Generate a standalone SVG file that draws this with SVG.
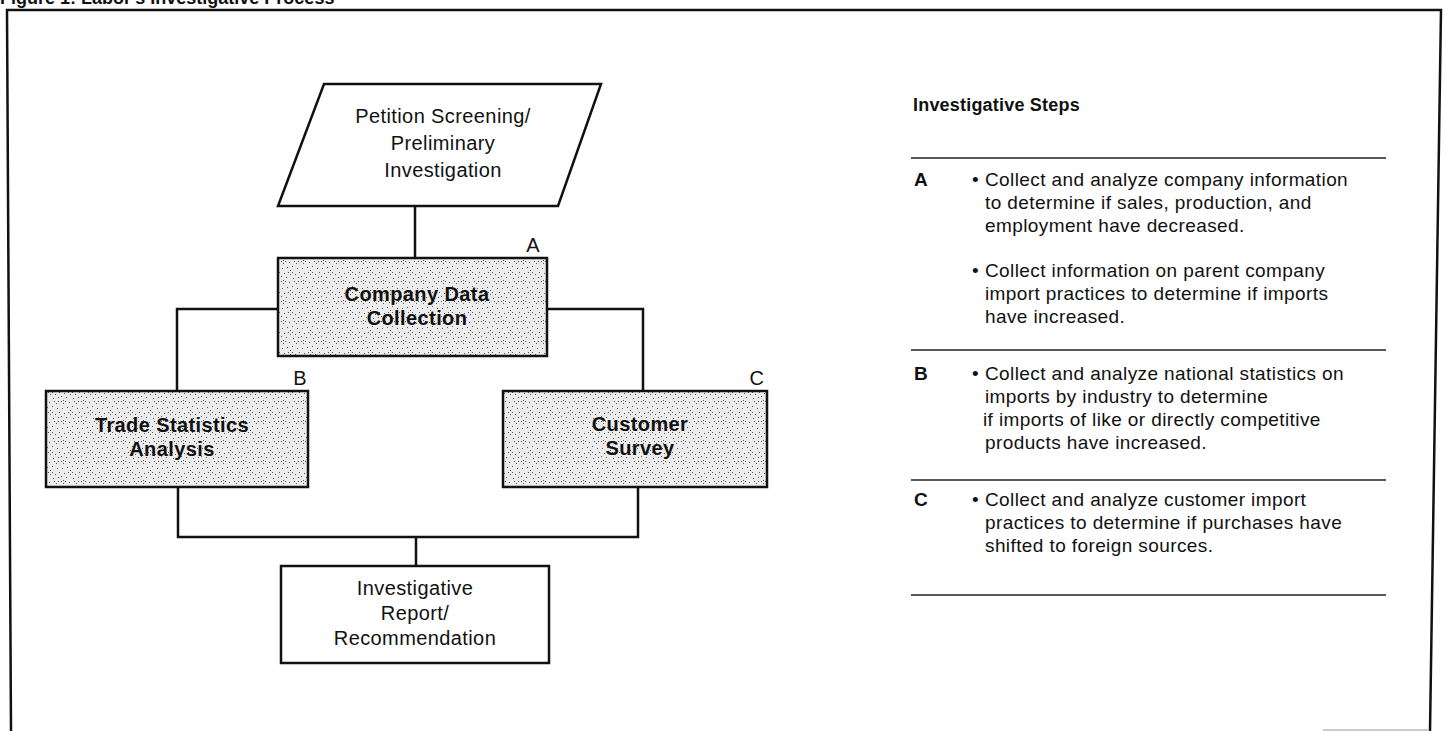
<svg xmlns="http://www.w3.org/2000/svg" width="1446" height="731" viewBox="0 0 1446 731">
<style>
.t{font-family:"Liberation Sans",Arial,sans-serif;font-size:20px;fill:#111;letter-spacing:0.4px}
.b{font-weight:bold}
.p{font-family:"Liberation Sans",Arial,sans-serif;font-size:19px;fill:#111;letter-spacing:0.4px}
.box{stroke:#111;stroke-width:2.5;fill:#fff}
.sh{stroke:#111;stroke-width:2.5;fill:url(#dots)}
.con{stroke:#111;stroke-width:2.5;fill:none}
.rule{stroke:#222;stroke-width:1.5}
.d{fill:#555}
</style>
<defs>
<pattern id="dots" width="20" height="20" patternUnits="userSpaceOnUse">
<rect width="20" height="20" fill="#ececec"/>
<rect class="d" x="1" y="1" width="1" height="1"/>
<rect class="d" x="3" y="3" width="1" height="1"/>
<rect class="d" x="5" y="1" width="1" height="1"/>
<rect class="d" x="3" y="0" width="1" height="1"/>
<rect class="d" x="9" y="2" width="1" height="1"/>
<rect class="d" x="14" y="1" width="1" height="1"/>
<rect class="d" x="16" y="3" width="1" height="1"/>
<rect class="d" x="18" y="1" width="1" height="1"/>
<rect class="d" x="12" y="6" width="1" height="1"/>
<rect class="d" x="7" y="7" width="1" height="1"/>
<rect class="d" x="2" y="8" width="1" height="1"/>
<rect class="d" x="17" y="8" width="1" height="1"/>
<rect class="d" x="10" y="10" width="1" height="1"/>
<rect class="d" x="12" y="12" width="1" height="1"/>
<rect class="d" x="8" y="12" width="1" height="1"/>
<rect class="d" x="10" y="14" width="1" height="1"/>
<rect class="d" x="4" y="13" width="1" height="1"/>
<rect class="d" x="15" y="14" width="1" height="1"/>
<rect class="d" x="1" y="16" width="1" height="1"/>
<rect class="d" x="6" y="17" width="1" height="1"/>
<rect class="d" x="13" y="18" width="1" height="1"/>
<rect class="d" x="18" y="17" width="1" height="1"/>
<rect class="d" x="19" y="12" width="1" height="1"/>
</pattern>
</defs>
<rect width="1446" height="731" fill="#fff"/>
<text x="0" y="4" font-family="Liberation Sans,Arial,sans-serif" font-size="18" font-weight="bold" fill="#111">Figure 1: Labor's Investigative Process</text>
<path d="M11 731 L7 10 L1441 10 L1430 731" fill="none" stroke="#111" stroke-width="2.5"/>
<line x1="1323" y1="730" x2="1428" y2="730" stroke="#bbb" stroke-width="1.5"/>

<g id="connectors">
<path class="con" d="M415 206 V258"/>
<path class="con" d="M278 309 H177 V391"/>
<path class="con" d="M547 309 H643 V391"/>
<path class="con" d="M178 487 V537 H638 V487"/>
<path class="con" d="M416 537 V566"/>
</g>

<g id="petition">
<polygon class="box" points="324,84 601,84 558,206 278,206"/>
<text class="t" x="443" y="123" text-anchor="middle">Petition Screening/</text>
<text class="t" x="443" y="150" text-anchor="middle">Preliminary</text>
<text class="t" x="443" y="177" text-anchor="middle">Investigation</text>
</g>

<g id="company">
<rect class="sh" x="278" y="258" width="269" height="98"/>
<text class="t" x="533" y="252" text-anchor="middle">A</text>
<text class="t b" x="417" y="301" text-anchor="middle">Company Data</text>
<text class="t b" x="417" y="325" text-anchor="middle">Collection</text>
</g>

<g id="trade">
<rect class="sh" x="46" y="391" width="262" height="96"/>
<text class="t" x="300" y="385" text-anchor="middle">B</text>
<text class="t b" x="172" y="432" text-anchor="middle">Trade Statistics</text>
<text class="t b" x="172" y="456" text-anchor="middle">Analysis</text>
</g>

<g id="customer">
<rect class="sh" x="503" y="391" width="264" height="96"/>
<text class="t" x="757" y="385" text-anchor="middle">C</text>
<text class="t b" x="640" y="431" text-anchor="middle">Customer</text>
<text class="t b" x="640" y="455" text-anchor="middle">Survey</text>
</g>

<g id="report">
<rect class="box" x="281" y="566" width="268" height="97"/>
<text class="t" x="415" y="595" text-anchor="middle">Investigative</text>
<text class="t" x="415" y="620" text-anchor="middle">Report/</text>
<text class="t" x="415" y="645" text-anchor="middle">Recommendation</text>
</g>

<g id="steps">
<text class="p b" x="913" y="111" style="font-size:18px;letter-spacing:0.2px">Investigative Steps</text>
<line class="rule" x1="911" y1="158" x2="1386" y2="158"/>
<text class="p b" x="914" y="186">A</text>
<text class="p" x="972" y="186">•</text>
<text class="p" x="985" y="186">Collect and analyze company information</text>
<text class="p" x="985" y="209">to determine if sales, production, and</text>
<text class="p" x="985" y="232">employment have decreased.</text>
<text class="p" x="972" y="277">•</text>
<text class="p" x="985" y="277">Collect information on parent company</text>
<text class="p" x="985" y="300">import practices to determine if imports</text>
<text class="p" x="985" y="323">have increased.</text>
<line class="rule" x1="911" y1="350" x2="1386" y2="350"/>
<text class="p b" x="914" y="380">B</text>
<text class="p" x="972" y="380">•</text>
<text class="p" x="985" y="380">Collect and analyze national statistics on</text>
<text class="p" x="985" y="403">imports by industry to determine</text>
<text class="p" x="983" y="426">if imports of like or directly competitive</text>
<text class="p" x="985" y="449">products have increased.</text>
<line class="rule" x1="911" y1="480" x2="1386" y2="480"/>
<text class="p b" x="914" y="506">C</text>
<text class="p" x="972" y="506">•</text>
<text class="p" x="985" y="506">Collect and analyze customer import</text>
<text class="p" x="985" y="529">practices to determine if purchases have</text>
<text class="p" x="985" y="552">shifted to foreign sources.</text>
<line class="rule" x1="911" y1="595" x2="1386" y2="595"/>
</g>
</svg>
